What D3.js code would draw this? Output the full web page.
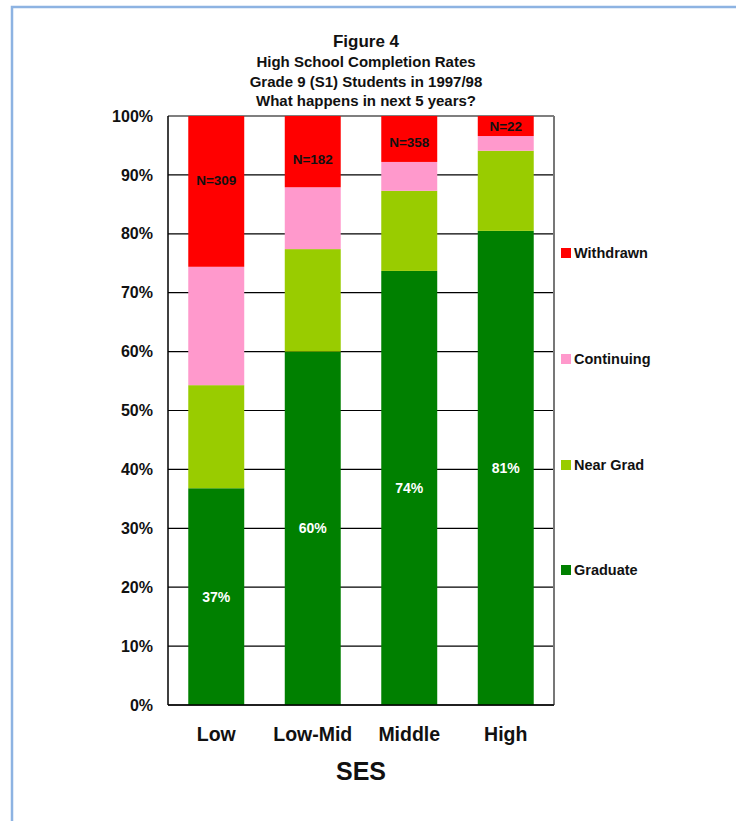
<!DOCTYPE html>
<html lang="en">
<head>
<meta charset="UTF-8">
<title>High School Completion Rates</title>
<script src="https://cdnjs.cloudflare.com/ajax/libs/d3/7.8.5/d3.min.js"></script>
<style>
  body { margin: 0; background: #fff; }
  text { font-family: "Liberation Sans", Arial, sans-serif; font-weight: bold; fill: #111; }
</style>
</head>
<body>
<div id="chart"></div>
<script>
// Data (percent of students)
var categories = ["Low", "Low-Mid", "Middle", "High"];
var seriesNames = ["Graduate", "Near Grad", "Continuing", "Withdrawn"];
var graduate   = [36.8, 60.0, 73.7, 80.5];
var nearGrad   = [17.5, 17.4, 13.6, 13.6];
var continuing = [20.1, 10.5, 4.9, 2.5];
var withdrawn  = [25.6, 12.1, 7.8, 3.4];
var gradLabels = ["37%", "60%", "74%", "81%"];
var nLabels = ["N=309", "N=182", "N=358", "N=22"];
var nLabelAt = [89.1, 92.7, 95.6, 98.3];   // value position of N labels
var yTicks = [0, 10, 20, 30, 40, 50, 60, 70, 80, 90, 100];
var colors = ["#008000", "#99cc00", "#ff99cc", "#ff0000"];

var W = 736, H = 821;
var pLeft = 168, pRight = 554, pTop = 116, pBottom = 705;

var svg = d3.select("#chart").append("svg")
    .attr("width", W).attr("height", H);

// outer frame
svg.append("rect")
    .attr("x", 12).attr("y", 7)
    .attr("width", W).attr("height", H)
    .attr("fill", "none").attr("stroke", "#8db3e2").attr("stroke-width", 2.5);

var x = d3.scaleBand().domain(categories)
    .range([pLeft, pRight]).paddingInner(0.42).paddingOuter(0.21);
var y = d3.scaleLinear().domain([0, 100]).range([pBottom, pTop]);

// gridlines
svg.append("g").selectAll("line").data(yTicks).join("line")
    .attr("x1", pLeft).attr("x2", pRight)
    .attr("y1", function(d) { return y(d); }).attr("y2", function(d) { return y(d); })
    .attr("stroke", "#000").attr("stroke-width", 1.2);

// stacked bars
var rows = categories.map(function(c, i) {
    return { cat: c, "Graduate": graduate[i], "Near Grad": nearGrad[i],
             "Continuing": continuing[i], "Withdrawn": withdrawn[i] };
});
var stack = d3.stack().keys(seriesNames)(rows);

svg.append("g").selectAll("g").data(stack).join("g")
    .attr("fill", function(d, i) { return colors[i]; })
  .selectAll("rect").data(function(d) { return d; }).join("rect")
    .attr("x", function(d) { return x(d.data.cat); })
    .attr("width", x.bandwidth())
    .attr("y", function(d) { return y(Math.min(d[1], 100)); })
    .attr("height", function(d) { return y(d[0]) - y(Math.min(d[1], 100)); });

// plot border: right grey, left and bottom black
svg.append("line").attr("x1", pRight).attr("x2", pRight).attr("y1", pTop).attr("y2", pBottom)
    .attr("stroke", "#777").attr("stroke-width", 2);
svg.append("line").attr("x1", pLeft).attr("x2", pLeft).attr("y1", pTop).attr("y2", pBottom)
    .attr("stroke", "#000").attr("stroke-width", 1.5);
svg.append("line").attr("x1", pLeft).attr("x2", pRight).attr("y1", pBottom).attr("y2", pBottom)
    .attr("stroke", "#000").attr("stroke-width", 1.5);

var font = "'Liberation Sans', Arial, sans-serif";

// y axis labels
var yAxis = d3.axisLeft(y).tickValues(yTicks).tickSize(0).tickPadding(15)
    .tickFormat(function(d) { return d + "%"; });
var ya = svg.append("g").attr("transform", "translate(" + pLeft + ",0)").call(yAxis);
ya.select(".domain").remove();
ya.selectAll("text").style("font-size", "16px").style("font-family", font)
    .style("font-weight", "bold").attr("fill", "#111");

// x axis labels
var xAxis = d3.axisBottom(x).tickSize(0).tickPadding(22);
var xa = svg.append("g").attr("transform", "translate(0," + pBottom + ")").call(xAxis);
xa.select(".domain").remove();
xa.selectAll("text").style("font-size", "19.5px").style("font-family", font)
    .style("font-weight", "bold").attr("fill", "#111");

// value labels on the Graduate segment
svg.append("g").selectAll("text").data(categories).join("text")
    .attr("x", function(d) { return x(d) + x.bandwidth() / 2; })
    .attr("y", function(d, i) { return y(graduate[i] / 2); })
    .attr("dy", "0.35em").attr("text-anchor", "middle")
    .style("font-size", "14px").style("fill", "#fff")
    .text(function(d, i) { return gradLabels[i]; });

// N labels in the Withdrawn segment
svg.append("g").selectAll("text").data(categories).join("text")
    .attr("x", function(d) { return x(d) + x.bandwidth() / 2; })
    .attr("y", function(d, i) { return y(nLabelAt[i]); })
    .attr("dy", "0.35em").attr("text-anchor", "middle")
    .style("font-size", "13.5px").style("fill", "#111")
    .text(function(d, i) { return nLabels[i]; });

// legend
var legendY = [570, 465, 359, 253];
var lg = svg.append("g").selectAll("g").data(seriesNames).join("g")
    .attr("transform", function(d, i) { return "translate(561," + legendY[i] + ")"; });
lg.append("rect").attr("x", 0).attr("y", -5).attr("width", 10).attr("height", 10)
    .attr("fill", function(d, i) { return colors[i]; });
lg.append("text").attr("x", 13).attr("dy", "0.35em")
    .style("font-size", "14.5px").text(function(d) { return d; });

// titles
var titles = [
    { t: "Figure 4", y: 41, s: 17 },
    { t: "High School Completion Rates", y: 62, s: 15 },
    { t: "Grade 9 (S1) Students in 1997/98", y: 82, s: 15 },
    { t: "What happens in next 5 years?", y: 101, s: 15 }
];
svg.append("g").selectAll("text").data(titles).join("text")
    .attr("x", 366).attr("y", function(d) { return d.y; })
    .attr("dy", "0.35em").attr("text-anchor", "middle")
    .style("font-size", function(d) { return d.s + "px"; })
    .text(function(d) { return d.t; });

svg.append("text").attr("x", 361).attr("y", 771).attr("dy", "0.35em")
    .attr("text-anchor", "middle").style("font-size", "25px").text("SES");
</script>
</body>
</html>
